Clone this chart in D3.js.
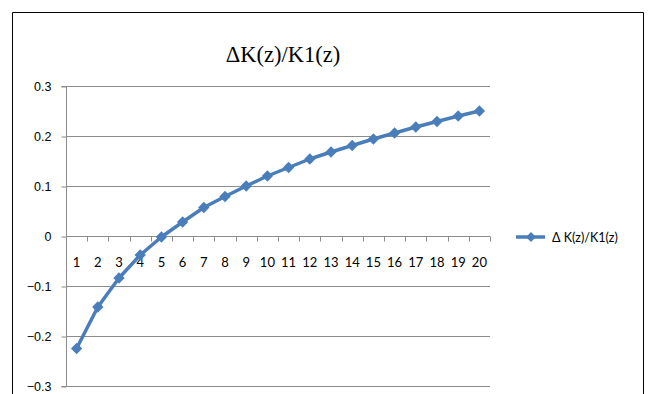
<!DOCTYPE html>
<html>
<head>
<meta charset="utf-8">
<script src="https://cdn.jsdelivr.net/npm/d3@7"></script>
<style>
  html, body { margin: 0; padding: 0; background: #fff; }
  svg { display: block; }
</style>
</head>
<body>
<svg id="chart" width="649" height="394"></svg>
<script>
// Ratio ΔK(z)/K1(z) for z = 1..20
const categories = d3.range(1, 21);
const ratioValues = [-0.225, -0.142, -0.084, -0.038, -0.002, 0.028, 0.057, 0.079, 0.100, 0.120,
                     0.137, 0.154, 0.168, 0.181, 0.194, 0.206, 0.218, 0.229, 0.240, 0.250];
const yTicks = [0.3, 0.2, 0.1, 0, -0.1, -0.2, -0.3];
const seriesName = "\u0394K(z)/K1(z)";
const legendLabel = "\u0394 K(z)/K1(z)";

const svg = d3.select("#chart");
const blue = "#4A7EBB";
const gridColor = "#8c8c8c";

// outer chart frame (open at the bottom)
svg.append("path")
  .attr("d", "M12.5,394 V12.5 H643.5 V394")
  .attr("fill", "none").attr("stroke", "#000").attr("stroke-width", 1);

const plot = { left: 66, right: 490, top: 86, bottom: 386 };

const x = d3.scaleBand().domain(categories).range([plot.left, plot.right]);
const y = d3.scaleLinear().domain([-0.3, 0.3]).range([plot.bottom, plot.top]);

// title
svg.append("text")
  .attr("x", 283).attr("y", 62)
  .attr("text-anchor", "middle")
  .attr("font-family", "Liberation Serif, Times New Roman, serif")
  .attr("font-size", 22.5)
  .attr("fill", "#000")
  .text(seriesName);

// horizontal gridlines
svg.append("g").selectAll("line").data(yTicks).join("line")
  .attr("x1", plot.left).attr("x2", plot.right)
  .attr("y1", d => Math.round(y(d)) + 0.5).attr("y2", d => Math.round(y(d)) + 0.5)
  .attr("stroke", gridColor).attr("stroke-width", 1);

// y axis
const yAxis = d3.axisLeft(y).tickValues(yTicks).tickSize(5).tickPadding(10)
  .tickFormat(d => d === 0 ? "0" : d3.format("")(d));
const gy = svg.append("g").attr("transform", `translate(${plot.left + 0.5},0.5)`).call(yAxis);
gy.select(".domain").attr("stroke", gridColor).attr("d", `M-5,${plot.top}H0V${plot.bottom}H-5`);
gy.selectAll(".tick line").attr("stroke", gridColor);
gy.selectAll(".tick text")
  .attr("font-family", "Liberation Sans, Arial, sans-serif")
  .attr("font-size", 12.5).attr("fill", "#000");

// x axis drawn on the zero line, ticks at band boundaries
const gx = svg.append("g").attr("transform", `translate(0,${Math.round(y(0)) + 0.5})`);
gx.append("line").attr("x1", plot.left).attr("x2", plot.right)
  .attr("stroke", gridColor);
const boundaries = categories.map(c => x(c)).concat([x(categories[categories.length - 1]) + x.bandwidth()]);
gx.selectAll("line.tk").data(boundaries).join("line").attr("class", "tk")
  .attr("x1", d => Math.round(d) + 0.5).attr("x2", d => Math.round(d) + 0.5)
  .attr("y1", 0).attr("y2", 5).attr("stroke", gridColor);
gx.selectAll("text").data(categories).join("text")
  .attr("x", d => x(d) + x.bandwidth() / 2)
  .attr("y", 30)
  .attr("text-anchor", "middle")
  .attr("font-family", "Lato, Open Sans, sans-serif")
  .attr("font-size", 13)
  .attr("fill", "#000")
  .text(d => d);

// data line
const cx = (d, i) => x(categories[i]) + x.bandwidth() / 2;
const line = d3.line().x(cx).y(d => y(d));
svg.append("path").datum(ratioValues)
  .attr("d", line)
  .attr("fill", "none").attr("stroke", blue).attr("stroke-width", 3.5)
  .attr("stroke-linejoin", "round");

// square markers turned 45° (Excel-style diamonds)
const diamond = d3.symbol().type(d3.symbolSquare).size(64);
svg.append("g").selectAll("path").data(ratioValues).join("path")
  .attr("d", diamond)
  .attr("transform", (d, i) => `translate(${cx(d, i)},${y(d)}) rotate(45)`)
  .attr("fill", blue);

// legend
const lg = svg.append("g").attr("transform", "translate(516,237)");
lg.append("line").attr("x1", 0).attr("x2", 29).attr("stroke", blue).attr("stroke-width", 3.5);
lg.append("path").attr("d", d3.symbol().type(d3.symbolSquare).size(50))
  .attr("transform", "translate(15,0) rotate(45)").attr("fill", blue);
lg.append("text").attr("x", 36).attr("y", 4.5)
  .attr("font-family", "Lato, Open Sans, sans-serif")
  .attr("font-size", 12.5).attr("fill", "#000")
  .text(legendLabel);
</script>
</body>
</html>
